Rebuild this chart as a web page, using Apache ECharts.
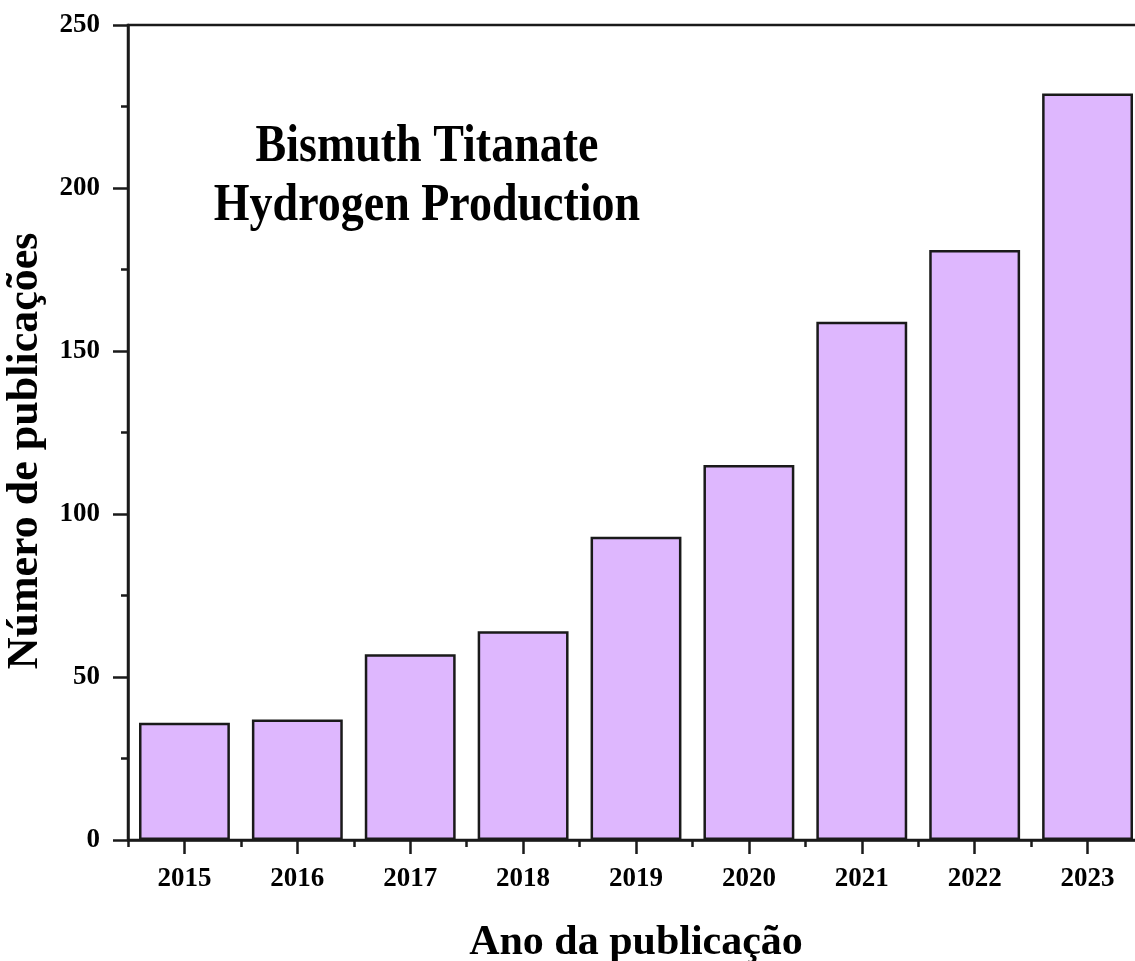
<!DOCTYPE html>
<html>
<head>
<meta charset="utf-8">
<script src="https://cdn.jsdelivr.net/npm/echarts@6/dist/echarts.min.js"></script>
<style>html,body{margin:0;padding:0;background:#fff;}#c{width:1135px;height:961px;}</style>
</head>
<body>
<div id="c"></div>
<script>
const years = ['2015','2016','2017','2018','2019','2020','2021','2022','2023'];
const publications = [36, 37, 57, 64, 93, 115, 159, 181, 229];
const yTicks = [0, 50, 100, 150, 200, 250];
const titleLines = ['Bismuth Titanate', 'Hydrogen Production'];
const xTitle = 'Ano da publicação';
const yTitle = 'Número de publicações';

const font = '"Liberation Serif","Times New Roman",serif';
const ink = '#1a1a1a';
const chart = echarts.init(document.getElementById('c'), null, {renderer:'canvas'});
chart.setOption({
  animation: false,
  backgroundColor: '#fff',
  grid: {left: 128, top: 25, width: 1016, height: 815, outerBoundsMode: 'none', containLabel: false,
         show: true, borderColor: ink, borderWidth: 2.5, backgroundColor: 'transparent'},
  xAxis: [{
    type: 'category', data: years, position: 'bottom',
    axisLine: {show: true, lineStyle: {color: ink, width: 2.5}},
    axisTick: {show: true, alignWithLabel: true, length: 14, lineStyle: {color: ink, width: 2.5}},
    axisLabel: {color: '#000', fontFamily: font, fontWeight: 'bold', fontSize: 27, margin: 26},
    name: xTitle, nameLocation: 'middle', nameGap: 82,
    nameTextStyle: {color: '#000', fontFamily: font, fontWeight: 'bold', fontSize: 42}
  }, {
    type: 'category', data: years, position: 'bottom',
    axisLine: {show: false},
    axisTick: {show: true, length: 7, lineStyle: {color: ink, width: 2.5}},
    axisLabel: {show: false}
  }],
  yAxis: {
    type: 'value', min: yTicks[0], max: yTicks[yTicks.length-1], interval: 50,
    axisLine: {show: true, lineStyle: {color: ink, width: 2.5}},
    axisTick: {show: true, length: 15, lineStyle: {color: ink, width: 2.5}},
    minorTick: {show: true, splitNumber: 2, length: 7, lineStyle: {color: ink, width: 2.5}},
    splitLine: {show: false},
    axisLabel: {color: '#000', fontFamily: font, fontWeight: 'bold', fontSize: 27, margin: 28}
  },
  series: [{
    type: 'bar', data: publications, xAxisIndex: 0,
    barCategoryGap: '19.5%',
    itemStyle: {color: '#DEB7FE', borderColor: ink, borderWidth: 2.5}
  }],
  graphic: [{
    type: 'text', x: 427, y: 118, scaleY: 1.15,
    style: {text: titleLines.join('\n'), font: 'bold 46px ' + font, fill: '#000', align: 'center', verticalAlign: 'top', lineHeight: 51}
  }, {
    type: 'text', rotation: Math.PI/2, x: 4, y: 451,
    style: {text: yTitle, font: 'bold 44px ' + font, fill: '#000', align: 'center', verticalAlign: 'top'}
  }]
});
</script>
</body>
</html>
